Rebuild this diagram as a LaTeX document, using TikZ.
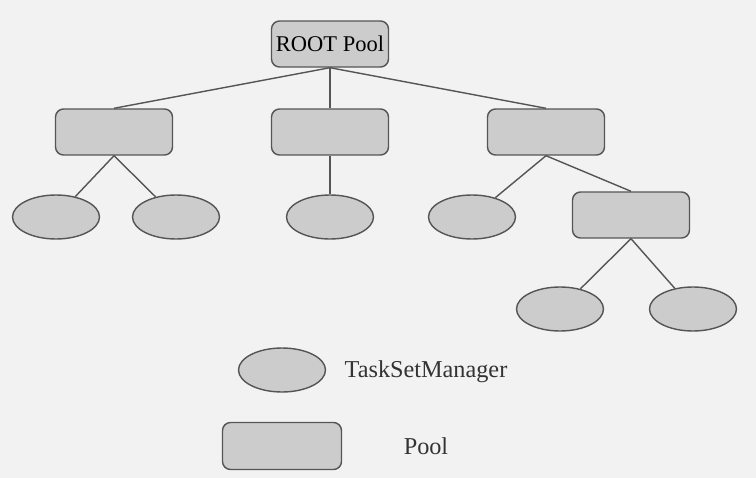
\documentclass[tikz,border=0pt]{standalone}
\usepackage{fontspec}
\setmainfont{Liberation Serif}
\usetikzlibrary{shapes.geometric}

\definecolor{bgcol}{HTML}{F2F2F2}
\definecolor{boxfill}{HTML}{CCCCCC}
\definecolor{edgecol}{HTML}{555555}

\tikzset{
    pool/.style={draw=edgecol, line width=0.8pt, fill=boxfill, rounded corners=0.16cm,
        minimum width=2.34cm, minimum height=0.92cm, inner sep=0pt},
    tsm/.style={draw=edgecol, line width=0.8pt, fill=boxfill, ellipse,
        minimum width=1.74cm, minimum height=0.88cm, inner sep=0pt},
    link/.style={draw=edgecol, line width=0.8pt},
    legtext/.style={font=\fontsize{13.8}{16}\selectfont, text=black!80}
}

\begin{document}
\begin{tikzpicture}[font=\fontsize{12.8}{14}\selectfont]
        \def \s {0.02}

        \fill[bgcol] (0, 0) rectangle (756*\s, -478*\s);

        % pools
        \node[pool] (root) at (330*\s, -44*\s) {ROOT Pool};
        \node[pool] (p1) at (114*\s, -132*\s) {};
        \node[pool] (p2) at (330*\s, -132*\s) {};
        \node[pool] (p3) at (546*\s, -132*\s) {};
        \node[pool] (p4) at (631*\s, -215*\s) {};

        % task set managers
        \node[tsm] (t1) at (56*\s, -217*\s) {};
        \node[tsm] (t2) at (176*\s, -217*\s) {};
        \node[tsm] (t3) at (330*\s, -217*\s) {};
        \node[tsm] (t4) at (472*\s, -217*\s) {};
        \node[tsm] (t5) at (560*\s, -309*\s) {};
        \node[tsm] (t6) at (693*\s, -309*\s) {};

        \draw[link] (root.south) -- (p1.north);
        \draw[link] (root.south) -- (p2.north);
        \draw[link] (root.south) -- (p3.north);
        \draw[link] (p1.south) -- (t1);
        \draw[link] (p1.south) -- (t2);
        \draw[link] (p2.south) -- (t3.north);
        \draw[link] (p3.south) -- (t4);
        \draw[link] (p3.south) -- (p4.north);
        \draw[link] (p4.south) -- (t5);
        \draw[link] (p4.south) -- (t6);

        % legend
        \node[tsm] (ltsm) at (282*\s, -370*\s) {};
        \node[pool, minimum width=2.38cm, minimum height=0.94cm] (lpool) at (282*\s, -446*\s) {};
        \node[legtext] (ltsmtext) at (426*\s, -372*\s) {TaskSetManager};
        \node[legtext] (lpooltext) at (426*\s, -446*\s) {Pool};
    \end{tikzpicture}
\end{document}
